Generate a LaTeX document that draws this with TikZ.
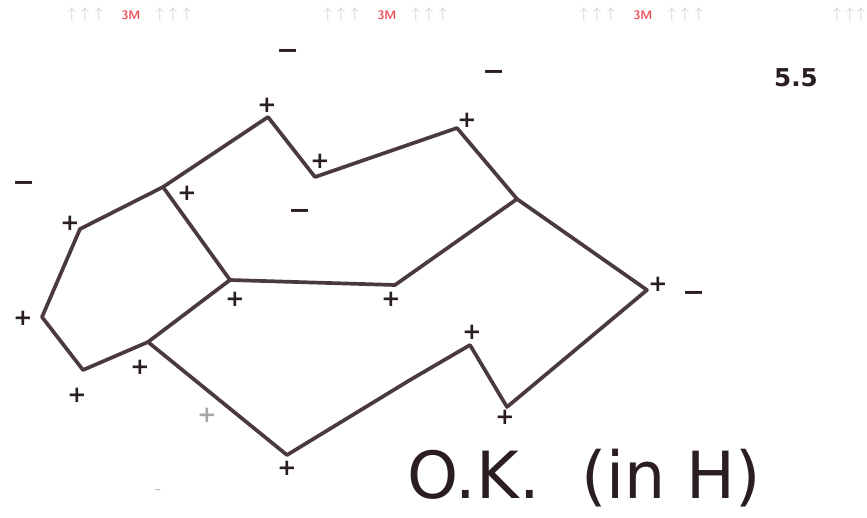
\documentclass[tikz,border=0pt]{standalone}
\usepackage{fontspec}
\newfontfamily\handfont{DejaVu Sans}
\definecolor{PenColor}{RGB}{74,58,64}
\definecolor{MarkColor}{RGB}{42,30,36}
\definecolor{WaterColor}{RGB}{208,202,208}
\definecolor{BrandColor}{RGB}{232,84,94}
\usepackage{tikz}
\usetikzlibrary{positioning}

\begin{document}
\begin{tikzpicture}[x=0.02cm, y=-0.02cm,
    pen/.style={draw=PenColor, line width=2.1pt, line join=round, line cap=round},
    plus/.style={text=MarkColor, font=\handfont\bfseries\fontsize{13}{13}\selectfont, inner sep=0pt},
    minus/.style={text=MarkColor, font=\handfont\fontsize{24}{24}\selectfont, inner sep=0pt},
    faint/.style={text=MarkColor!40}]
  \useasboundingbox (0,0) rectangle (867,518);

  % watermark along the top edge of the paper
  \foreach \c [count=\i] in {131,387,643} {
    \node[inner sep=0pt, text=BrandColor, font=\sffamily\bfseries\scriptsize] (brand\i) at (\c,15) {3M};
    \foreach \dx [count=\j] in {-59,-46,-32,29,42,56}
      \node[inner sep=0pt, text=WaterColor, font=\small] (up\i-\j) at (\c+\dx,15) {$\uparrow$};
  }
  \foreach \x [count=\j] in {837,850,861}
    \node[inner sep=0pt, text=WaterColor, font=\small] (up4-\j) at (\x,15) {$\uparrow$};

  % vertices of the regions
  \coordinate (a) at (80,229);
  \coordinate (b) at (163,187);
  \coordinate (c) at (268,117);
  \coordinate (d) at (315,177);
  \coordinate (e) at (457,128);
  \coordinate (f) at (517,199);
  \coordinate (g) at (647,290);
  \coordinate (h) at (507,407);
  \coordinate (i) at (470,345);
  \coordinate (ik) at (410,380);
  \coordinate (j) at (287,455);
  \coordinate (k) at (148,342);
  \coordinate (l) at (83,370);
  \coordinate (m) at (42,317);
  \coordinate (n) at (230,280);
  \coordinate (o) at (395,285);

  \draw[pen] (a) -- (b) -- (c) -- (d) -- (e) -- (f) -- (g) -- (h) -- (i) -- (ik) -- (j) -- (k) -- (l) -- (m) -- cycle;
  \draw[pen] (b) -- (n) -- (o) -- (f);
  \draw[pen] (n) -- (k);

  % signs
  \node[plus] (pc) at (267,105) {+};
  \node[plus] (pd) at (320,161) {+};
  \node[plus] (pe) at (467,120) {+};
  \node[plus] (pa) at (70,223) {+};
  \node[plus] (pb) at (187,193) {+};
  \node[plus] (pn) at (235,299) {+};
  \node[plus] (po) at (391,299) {+};
  \node[plus] (pg) at (658,284) {+};
  \node[plus] (pi) at (472,332) {+};
  \node[plus] (ph) at (505,417) {+};
  \node[plus] (pj) at (287,468) {+};
  \node[plus] (pk) at (140,367) {+};
  \node[plus] (pl) at (77,395) {+};
  \node[plus] (pm) at (23,318) {+};
  \node[plus, faint] (px) at (207,415) {+};

  \node[minus] (m1) at (288,56) {–};
  \node[minus] (m2) at (494,77) {–};
  \node[minus] (m3) at (24,188) {–};
  \node[minus] (m4) at (300,216) {–};
  \node[minus] (m5) at (694,298) {–};
  \node[minus, faint, font=\handfont\scriptsize] (m6) at (158,492) {–};

  \node[text=MarkColor, font=\handfont\bfseries\fontsize{14}{14}\selectfont, inner sep=0pt] (val) at (796,78) {5.5};
  \node[text=MarkColor, font=\handfont\fontsize{37}{37}\selectfont, inner sep=0pt] (verdict) at (584,478) {O.K.\ \ (in H)};
\end{tikzpicture}
\end{document}
